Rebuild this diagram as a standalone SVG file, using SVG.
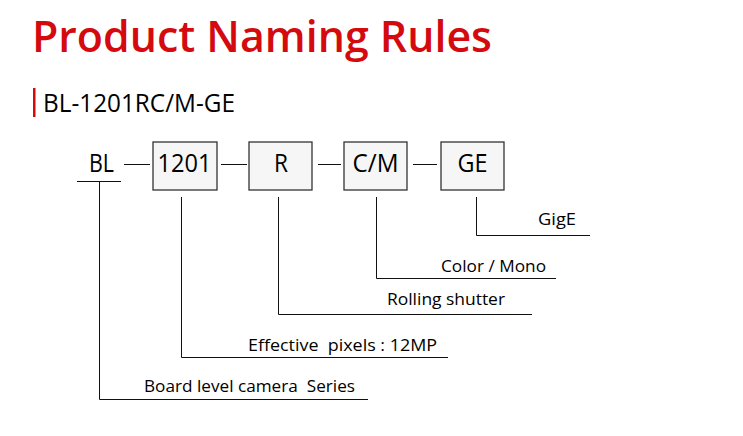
<svg xmlns="http://www.w3.org/2000/svg" width="743" height="436" viewBox="0 0 743 436">
<style>
text { font-family: "Open Sans", "Noto Sans", "Liberation Sans", sans-serif; fill: #000; white-space: pre; }
.title { font-size: 44px; font-weight: 600; fill: #d40a0f; }
.sub { font-size: 25px; }
.code { font-size: 25px; text-anchor: middle; }
.lbl { font-size: 17px; }
.box { fill: #f6f6f6; stroke: #333; stroke-width: 1.3; }
.ln { stroke: #111; stroke-width: 1; fill: none; }
</style>
<rect width="743" height="436" fill="#fff"/>
<text class="title" x="32" y="52" textLength="460" lengthAdjust="spacingAndGlyphs">Product Naming Rules</text>
<rect x="33" y="88" width="2.5" height="29" fill="#d40a0f"/>
<text class="sub" x="43" y="112" textLength="192" lengthAdjust="spacingAndGlyphs">BL-1201RC/M-GE</text>
<g id="node-bl"><text class="code" x="101.5" y="172" textLength="25" lengthAdjust="spacingAndGlyphs">BL</text></g>
<g id="node-1201"><rect class="box" x="153" y="142" width="64" height="48"/><text class="code" x="184.5" y="172" textLength="54" lengthAdjust="spacingAndGlyphs">1201</text></g>
<g id="node-r"><rect class="box" x="249" y="142" width="63" height="48"/><text class="code" x="281" y="172" textLength="14" lengthAdjust="spacingAndGlyphs">R</text></g>
<g id="node-cm"><rect class="box" x="344" y="142" width="63" height="48"/><text class="code" x="375.5" y="172" textLength="46" lengthAdjust="spacingAndGlyphs">C/M</text></g>
<g id="node-ge"><rect class="box" x="441" y="142" width="63" height="48"/><text class="code" x="472.5" y="172" textLength="30" lengthAdjust="spacingAndGlyphs">GE</text></g>
<g id="labels">
<text class="lbl" x="538" y="225" textLength="38" lengthAdjust="spacingAndGlyphs">GigE</text>
<text class="lbl" x="441" y="272" textLength="105" lengthAdjust="spacingAndGlyphs">Color / Mono</text>
<text class="lbl" x="387" y="305" textLength="118" lengthAdjust="spacingAndGlyphs">Rolling shutter</text>
<text class="lbl" x="248" y="351" textLength="189" lengthAdjust="spacingAndGlyphs">Effective  pixels : 12MP</text>
<text class="lbl" x="144" y="392" textLength="211" lengthAdjust="spacingAndGlyphs">Board level camera  Series</text>
</g>
<g id="connectors">
<path class="ln" d="M124 164.5H150M221 164.5H247M318 164.5H341M413 164.5H437"/>
<path class="ln" d="M77 181.5H121"/>
<path class="ln" d="M99.5 181.5V399.5H368"/>
<path class="ln" d="M181.5 197V357.5H448"/>
<path class="ln" d="M278.5 197V314.5H532"/>
<path class="ln" d="M376.5 197V278.5H556"/>
<path class="ln" d="M476.5 197V235.5H590"/>
</g>
</svg>
